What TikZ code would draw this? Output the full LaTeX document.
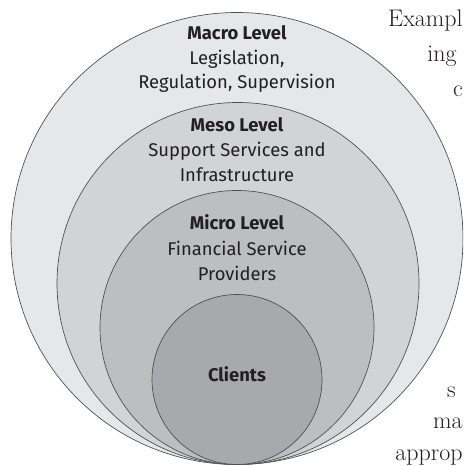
\documentclass[tikz,border=0pt]{standalone}
\usepackage{fontspec}
\setsansfont{Fira Sans}
\definecolor{g1}{HTML}{E6E7E8}
\definecolor{g2}{HTML}{D1D3D4}
\definecolor{g3}{HTML}{BCBEC0}
\definecolor{g4}{HTML}{A7A9AC}
\definecolor{ink}{HTML}{231F20}
\definecolor{rim}{HTML}{4D4D4F}
\tikzset{
  ring/.style={draw=rim, line width=0.5pt},
  head/.style={anchor=base, inner sep=0pt, text=ink, font=\sffamily\bfseries\fontsize{13.8}{17}\selectfont},
  body/.style={anchor=base, inner sep=0pt, text=ink, font=\sffamily\fontsize{13.8}{17}\selectfont},
  frag/.style={anchor=base east, inner sep=0pt, text=ink, font=\rmfamily\fontsize{18}{22}\selectfont},
}
\begin{document}
\begin{tikzpicture}[x=0.75pt,y=0.75pt]
\useasboundingbox (0,0) rectangle (463,466);
\clip (0,0) rectangle (463,466);
\fill[white] (0,0) rectangle (463,466);
% rings
\filldraw[ring, fill=g1] (237,227.5) circle[radius=226];
\filldraw[ring, fill=g2] (238,182.5) circle[radius=181];
\filldraw[ring, fill=g3] (237,138.5) circle[radius=137];
\filldraw[ring, fill=g4] (237,86.5) circle[radius=85];
% labels
\node[head] (macro) at (237,426) {Macro Level};
\node[body] (macro1) at (237,401.5) {Legislation,};
\node[body] (macro2) at (237,377) {Regulation, Supervision};
\node[head] (meso) at (237,334) {Meso Level};
\node[body] (meso1) at (237,309) {Support Services and};
\node[body] (meso2) at (237,284) {Infrastructure};
\node[head] (micro) at (237,236) {Micro Level};
\node[body] (micro1) at (237,210.5) {Financial Service};
\node[body] (micro2) at (237,185.5) {Providers};
\node[head] (clients) at (237,84) {Clients};
% text fragments of the page, as far as they show
\node[frag] (f1) at (463,439) {Exampl};
\node[frag] (f2) at (457,404) {ing};
\node[frag] (f3) at (463,369) {c};
\node[frag] (f4) at (456,68) {s};
\node[frag] (f5) at (463,37) {ma};
\node[frag] (f6) at (463,5) {approp};
\end{tikzpicture}
\end{document}
